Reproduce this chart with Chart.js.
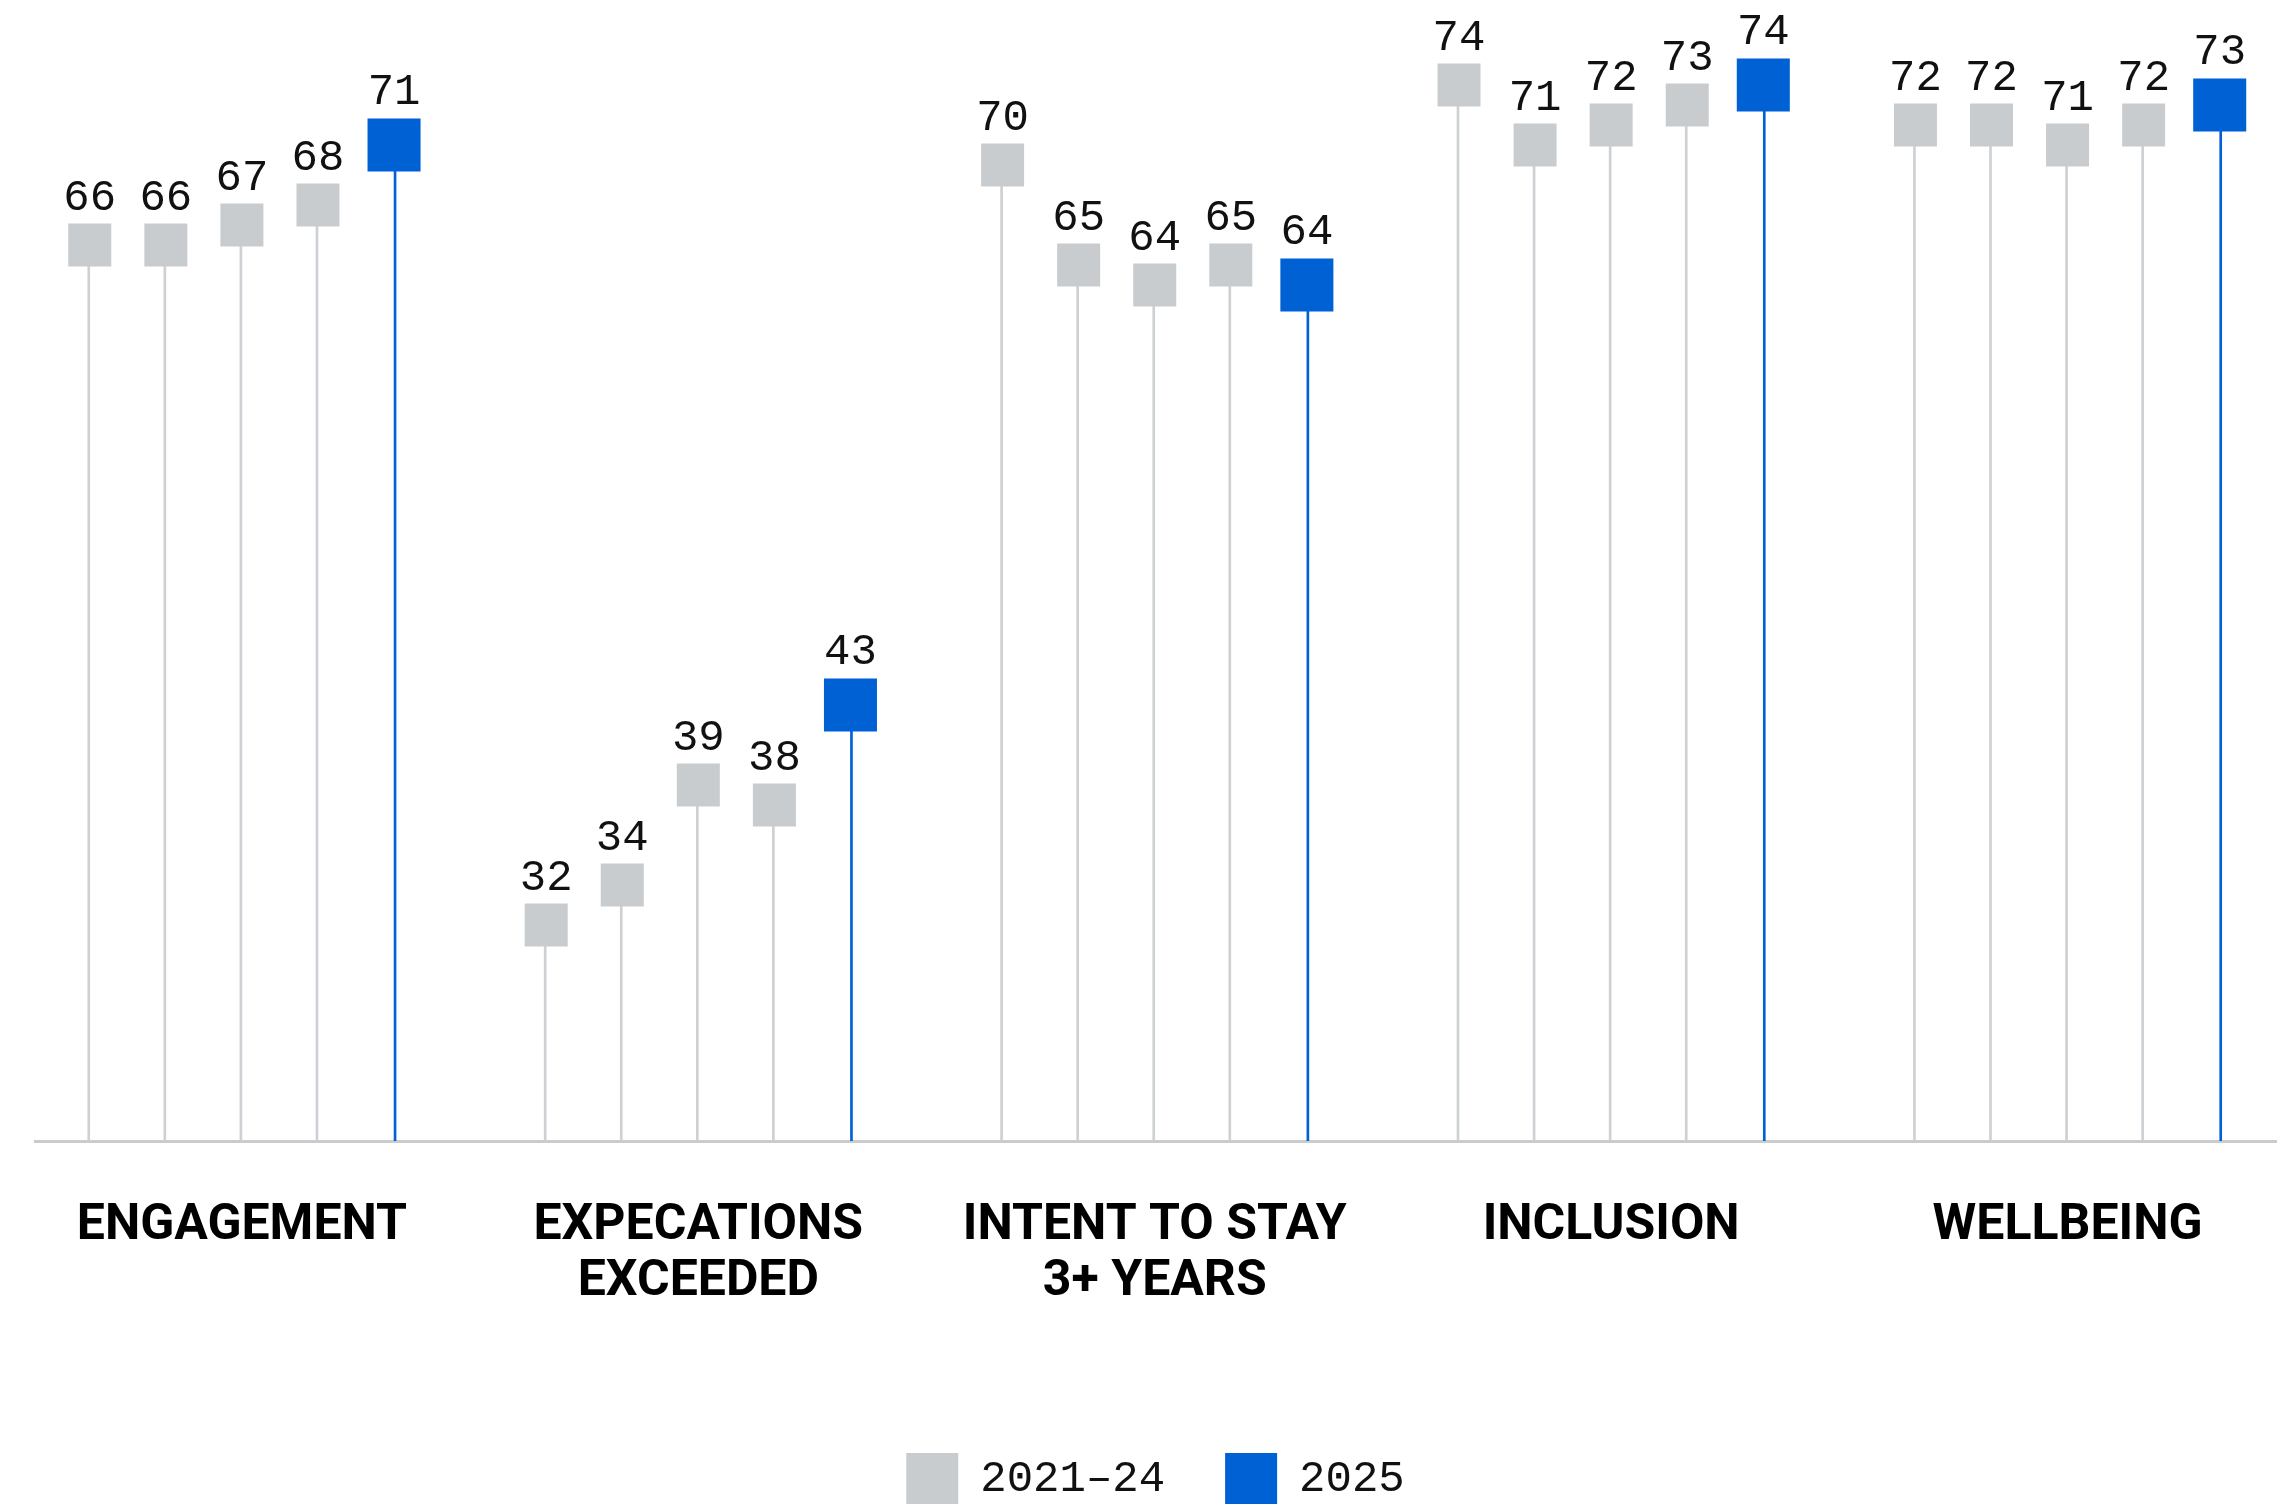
<!DOCTYPE html>
<html>
<head>
<meta charset="utf-8">
<script src="https://cdn.jsdelivr.net/npm/chart.js@4.4.1/dist/chart.umd.min.js"></script>
<style>
  html, body { margin: 0; padding: 0; background: #fff; overflow: hidden; }
  #wrap { width: 2280px; height: 1504px; overflow: hidden; }
  canvas { display: block; }
</style>
</head>
<body>
<div id="wrap"><canvas id="lollipop" width="2280" height="1515"></canvas></div>
<script>
// survey scores per category, one array per year
var categories = ['ENGAGEMENT', ['EXPECATIONS', 'EXCEEDED'], ['INTENT TO STAY', '3+ YEARS'], 'INCLUSION', 'WELLBEING'];
var y2021 = [66, 32, 70, 74, 72];
var y2022 = [66, 34, 65, 71, 72];
var y2023 = [67, 39, 64, 72, 71];
var y2024 = [68, 38, 65, 73, 72];
var y2025 = [71, 43, 64, 74, 73];
var seriesLabels = ['2021\u201324', '2025'];

var GRAY = '#c8cccf';
var GRAY_STEM = '#cdd1d4';
var BLUE = '#0061d5';
var MONO = '"Liberation Mono", "DejaVu Sans Mono", monospace';
var SLOTS = 6; // 5 years + 1 gap per category

var past = [y2021, y2022, y2023, y2024];
var grayPts = [];
var bluePts = [];
categories.forEach(function(c, i){
    past.forEach(function(yr, k){
        grayPts.push({x: i * SLOTS + k, y: yr[i]});
    });
    bluePts.push({x: i * SLOTS + 4, y: y2025[i]});
});

// value labels above the squares
var valueLabels = {
    id: 'valueLabels',
    afterDatasetsDraw: function(chart){
        var ctx = chart.ctx;
        ctx.save();
        ctx.font = '44px ' + MONO;
        ctx.fillStyle = '#111';
        ctx.textAlign = 'center';
        ctx.textBaseline = 'alphabetic';
        [2, 3].forEach(function(di){
            var ds = chart.data.datasets[di];
            var half = ds.pointRadius * Math.SQRT1_2;
            chart.getDatasetMeta(di).data.forEach(function(pt, j){
                ctx.fillText(String(ds.data[j].y), pt.x, pt.y - half - 14);
            });
        });
        ctx.restore();
    }
};

var chart = new Chart(document.getElementById('lollipop'), {
    type: 'bar',
    data: {
        datasets: [
            {type: 'bar', label: '', data: grayPts, backgroundColor: GRAY_STEM, barThickness: 2, order: 2},
            {type: 'bar', label: '', data: bluePts, backgroundColor: BLUE, barThickness: 2, order: 2},
            {type: 'scatter', label: seriesLabels[0], data: grayPts, backgroundColor: GRAY, borderWidth: 0,
             pointStyle: 'rect', pointRadius: 30.4, pointBorderWidth: 0, order: 0, clip: false},
            {type: 'scatter', label: seriesLabels[1], data: bluePts, backgroundColor: BLUE, borderWidth: 0,
             pointStyle: 'rect', pointRadius: 37.5, pointBorderWidth: 0, order: 0, clip: false}
        ]
    },
    options: {
        responsive: false,
        animation: false,
        events: [],
        layout: {autoPadding: false, padding: {top: 5, left: 35, right: 4, bottom: 0}},
        scales: {
            x: {
                type: 'linear',
                min: -0.72,
                max: 28.74,
                offset: false,
                grid: {display: false, drawTicks: false, offset: false},
                border: {display: true, color: GRAY, width: 3},
                afterBuildTicks: function(scale){
                    scale.ticks = categories.map(function(c, i){ return {value: i * SLOTS + 2}; });
                },
                afterFit: function(scale){
                    scale.height = 252;
                    scale.paddingLeft = 0;
                    scale.paddingRight = 0;
                },
                ticks: {
                    autoSkip: false,
                    maxRotation: 0,
                    padding: 57,
                    color: '#000',
                    font: {family: 'Roboto, "DejaVu Sans Condensed", sans-serif', size: 50, weight: 'bold', lineHeight: 56 / 50},
                    callback: function(v){ return categories[Math.round((v - 2) / SLOTS)]; }
                }
            },
            y: {
                display: false,
                min: 21.2,
                max: 78
            }
        },
        plugins: {
            tooltip: {enabled: false},
            legend: {
                position: 'bottom',
                labels: {
                    filter: function(item){ return item.datasetIndex >= 2; },
                    boxWidth: 52,
                    boxHeight: 52,
                    padding: 60,
                    color: '#111',
                    font: {family: MONO, size: 44}
                }
            }
        }
    },
    plugins: [valueLabels]
});
</script>
</body>
</html>
